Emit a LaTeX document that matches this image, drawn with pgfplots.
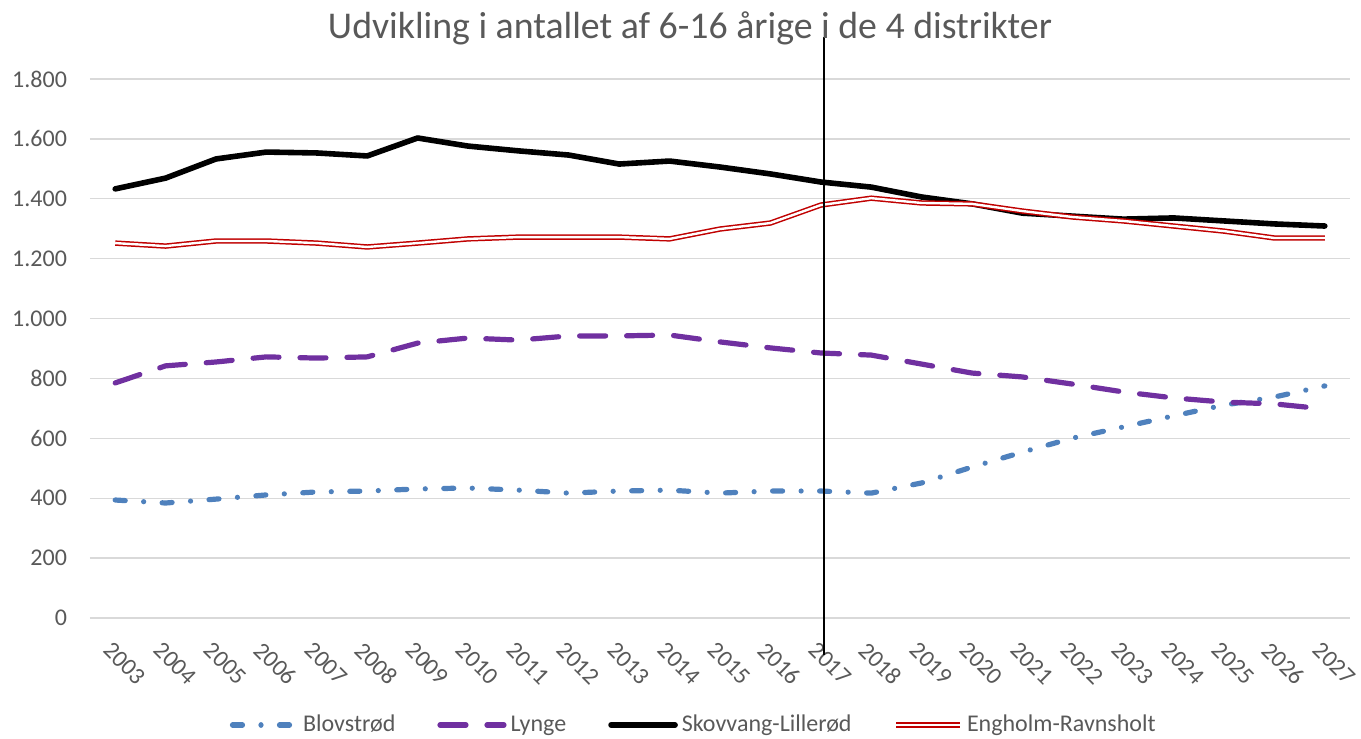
\documentclass[border=0pt]{standalone}
\usepackage{pgfplots}
\pgfplotsset{compat=1.18}
\usepackage{fontspec}
\setmainfont{Carlito}
\definecolor{txt}{HTML}{595959}
\definecolor{gridc}{HTML}{D9D9D9}
\definecolor{blov}{HTML}{4F81BD}
\definecolor{lyn}{HTML}{7030A0}
\definecolor{eng}{HTML}{C00000}

\pgfplotstableread{
year blov lyn skov eng
2003 394 785 1433 1252
2004 384 842 1469 1242
2005 397 855 1533 1259
2006 411 872 1556 1259
2007 421 868 1553 1252
2008 424 872 1543 1239
2009 431 918 1603 1252
2010 434 935 1576 1266
2011 427 928 1560 1272
2012 417 942 1546 1272
2013 424 942 1516 1272
2014 427 945 1526 1266
2015 417 922 1506 1299
2016 424 902 1483 1319
2017 424 885 1456 1379
2018 417 878 1439 1402
2019 451 848 1406 1386
2020 504 818 1383 1383
2021 554 805 1352 1359
2022 601 781 1342 1339
2023 638 755 1332 1326
2024 675 735 1336 1309
2025 711 721 1326 1292
2026 738 715 1316 1269
2027 775 698 1309 1269
}\datatable

\begin{document}
\begin{tikzpicture}
\begin{axis}[
  at={(0,0)}, anchor=south west,
  scale only axis, width=630pt, height=269.5pt,
  xmin=2002.5, xmax=2027.5, ymin=0, ymax=1800,
  xtick={2003,2004,...,2027},
  xticklabels={2003,2004,2005,2006,2007,2008,2009,2010,2011,2012,2013,2014,2015,2016,2017,2018,2019,2020,2021,2022,2023,2024,2025,2026,2027},
  ytick={0,200,...,1800},
  axis line style={draw=none}, tick style={draw=none},
  ymajorgrids, grid style={gridc, line width=0.65pt},
  clip=false,
  /pgf/number format/1000 sep={.},
  /pgf/number format/assume math mode=true,
  ticklabel style={font=\fontsize{12}{14}\selectfont, text=txt},
  yticklabel style={xshift=-8pt},
  xticklabel style={xshift=-1pt, yshift=-11pt, rotate=-45, anchor=north west, inner sep=0pt},
  legend columns=4,
  legend style={at={(0.48,-0.1985)}, anchor=center, draw=none, fill=none,
    font=\fontsize{12}{14}\selectfont, text=txt,
    /tikz/every even column/.append style={column sep=19pt}},
  legend image code/.code={\draw[#1] (0pt,0pt) -- (32pt,0pt);},
]
\addplot[blov, line width=2.6pt, line cap=round, dash pattern=on 5pt off 9.25pt on 0.01pt off 9.25pt] table[x=year, y=blov] {\datatable};
\addlegendentry{Blovstrød}
\addplot[lyn, line width=2.6pt, line cap=round, dash pattern=on 13pt off 10.5pt] table[x=year, y=lyn] {\datatable};
\addlegendentry{Lynge}
\addplot[black, line width=2.8pt, line cap=round, line join=round] table[x=year, y=skov] {\datatable};
\addlegendentry{Skovvang-Lillerød}
\addplot[eng, line width=0.75pt, double=white, double distance=1.2pt, line join=round] table[x=year, y=eng] {\datatable};
\addlegendentry{Engholm-Ravnsholt}
\addplot[black, line width=1pt, forget plot] coordinates {(2017.07,-124) (2017.07,1940)};
\end{axis}
\node[font=\fontsize{18.9}{22}\selectfont, text=txt] at (300pt,295pt) {Udvikling i antallet af 6-16 årige i de 4 distrikter};
\pgfresetboundingbox
\useasboundingbox (-45pt,-60.5pt) rectangle (635.5pt,309pt);
\end{tikzpicture}
\end{document}
